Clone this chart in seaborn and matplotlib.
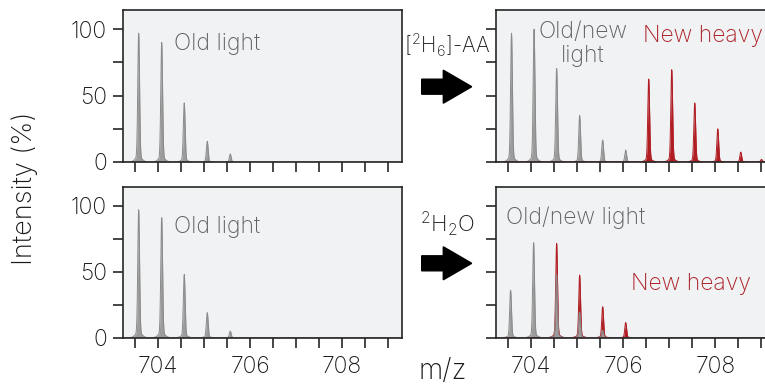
import numpy as np
import pandas as pd
import matplotlib
matplotlib.use("Agg")
import matplotlib.pyplot as plt
import seaborn as sns
from matplotlib.patches import FancyArrow

sns.set_theme(style="ticks")
plt.rcParams['font.family'] = ['Inter', 'DejaVu Sans']
plt.rcParams['mathtext.default'] = 'regular'

# ---- data (peak centroids) ----
tl_mz = [703.58, 704.08, 704.57, 705.07, 705.57]
tl_int = [97, 90, 44.5, 15.5, 6]
bl_mz = [703.58, 704.08, 704.57, 705.07, 705.57]
bl_int = [97, 91, 48, 19, 5]
tr_light_mz = [703.57, 704.06, 704.55, 705.05, 705.55, 706.05]
tr_light_int = [97, 100, 70.5, 35, 16.5, 9]
tr_heavy_mz = [706.55, 707.05, 707.55, 708.05, 708.55, 709.0]
tr_heavy_int = [62.5, 69.5, 44.5, 25, 7.5, 2]
br_light_mz = [703.55, 704.05, 704.55, 705.05, 705.55]
br_light_int = [36, 72, 48, 19.5, 5.5]
br_heavy_mz = [704.55, 705.05, 705.55, 706.05]
br_heavy_int = [71.5, 47.5, 23.5, 11.5]

x_ticks = [703.5 + 0.5 * i for i in range(12)]
x_labels = ['704', '706', '708']
y_ticks = [0, 25, 50, 75, 100]
y_labels = ['0', '', '50', '', '100']

GRAY = '#9c9c9c'
GRAY_EDGE = '#8a8a8a'
RED = '#b01e24'
TXT_GRAY = '#626262'
TXT_RED = '#ad2229'
BG = '#f1f2f4'
SPINE = '#262626'
TXT = '#1a1a1a'
WEIGHT = 'light'

grid = np.arange(703.2, 709.5, 0.002)


def profile(mz, inten):
    y = np.zeros_like(grid)
    for m, h in zip(mz, inten):
        y += h * (0.96 * np.exp(-0.5 * ((grid - m) / 0.019) ** 2)
                  + 0.04 * np.exp(-0.5 * ((grid - m) / 0.07) ** 2))
    return y


def draw(ax, mz, inten, fill, edge):
    y = profile(mz, inten)
    df = pd.DataFrame({'mz': grid, 'I': y})
    ax.fill_between(grid, 0, y, color=fill, lw=0, zorder=2)
    sns.lineplot(data=df, x='mz', y='I', ax=ax, color=edge, lw=0.7, zorder=3)


W, H = 765, 385
fig = plt.figure(figsize=(W / 100, H / 100), dpi=100)

wid = (402 - 123) / W
positions = {
    'tl': [123 / W, (H - 162) / H, wid, 152 / H],
    'bl': [123 / W, (H - 337.7) / H, wid, 151 / H],
    'tr': [496.3 / W, (H - 162) / H, wid, 152 / H],
    'br': [496.3 / W, (H - 337.7) / H, wid, 151 / H],
}
axes = {k: fig.add_axes(v) for k, v in positions.items()}

draw(axes['tl'], tl_mz, tl_int, GRAY, GRAY_EDGE)
draw(axes['bl'], bl_mz, bl_int, GRAY, GRAY_EDGE)
draw(axes['tr'], tr_light_mz, tr_light_int, GRAY, GRAY_EDGE)
draw(axes['tr'], tr_heavy_mz, tr_heavy_int, RED, RED)
draw(axes['br'], br_heavy_mz, br_heavy_int, RED, RED)
draw(axes['br'], br_light_mz, br_light_int, GRAY, GRAY_EDGE)

fs = 16.5
for k, ax in axes.items():
    ax.set_facecolor(BG)
    ax.set_xlim(703.24, 709.3)
    ax.set_ylim(0, 114.5)
    ax.set_xlabel('')
    ax.set_ylabel('')
    for s in ax.spines.values():
        s.set_color(SPINE)
        s.set_linewidth(1.2)
        s.set_zorder(5)
    ax.set_xticks(x_ticks)
    if k in ('bl', 'br'):
        ax.set_xticklabels([x_labels[(i - 1) // 4] if (i - 1) % 4 == 0 and i > 0 else '' for i in range(12)])
    else:
        ax.set_xticklabels([])
    ax.set_yticks(y_ticks)
    if k in ('tl', 'bl'):
        ax.set_yticklabels(y_labels)
    else:
        ax.set_yticklabels([])
    ax.tick_params(axis='both', direction='out', length=7.5, width=1.2, color=SPINE,
                   labelsize=fs, labelcolor=TXT)
    ax.tick_params(axis='x', pad=6)
    ax.tick_params(axis='y', pad=4)
    for t in ax.get_xticklabels() + ax.get_yticklabels():
        t.set_fontweight(WEIGHT)

kw = dict(fontsize=fs, fontweight=WEIGHT)
axes['tl'].text(704.34, 84.4, 'Old light', color=TXT_GRAY, ha='left', va='baseline', **kw)
axes['bl'].text(704.34, 79.1, 'Old light', color=TXT_GRAY, ha='left', va='baseline', **kw)
axes['tr'].text(705.12, 93.2, 'Old/new', color=TXT_GRAY, ha='center', va='baseline', **kw)
axes['tr'].text(705.12, 75.6, 'light', color=TXT_GRAY, ha='center', va='baseline', **kw)
axes['tr'].text(706.43, 90.7, 'New heavy', color=TXT_RED, ha='left', va='baseline', **kw)
axes['br'].text(703.45, 86.2, 'Old/new light', color=TXT_GRAY, ha='left', va='baseline', **kw)
axes['br'].text(706.16, 36.5, 'New heavy', color=TXT_RED, ha='left', va='baseline', **kw)

# figure-level labels
fig.text(25 / W, 1 - 188 / H, 'Intensity (%)', rotation=90, ha='center', va='center',
         color=TXT, fontsize=19.5, fontweight=WEIGHT)
fig.text(443 / W, 1 - 372 / H, 'm/z', ha='center', va='center', color=TXT,
         fontsize=20, fontweight=WEIGHT)
fig.text(447 / W, 1 - 53 / H, '[$^{2}$H$_{6}$]-AA', ha='center', va='baseline',
         color=TXT, fontsize=15, fontweight=WEIGHT)
fig.text(447 / W, 1 - 231.7 / H, '$^{2}$H$_{2}$O', ha='center', va='baseline',
         color=TXT, fontsize=16, fontweight=WEIGHT)

# arrows (in inch coordinates)
for yc in (86.7, 263.3):
    arr = FancyArrow(4.217, (H - yc) / 100, 0.50, 0, width=0.15, head_width=0.33,
                     head_length=0.284, length_includes_head=True,
                     color='black', transform=fig.dpi_scale_trans)
    fig.patches.append(arr)

fig.savefig('out.png', dpi=100)
